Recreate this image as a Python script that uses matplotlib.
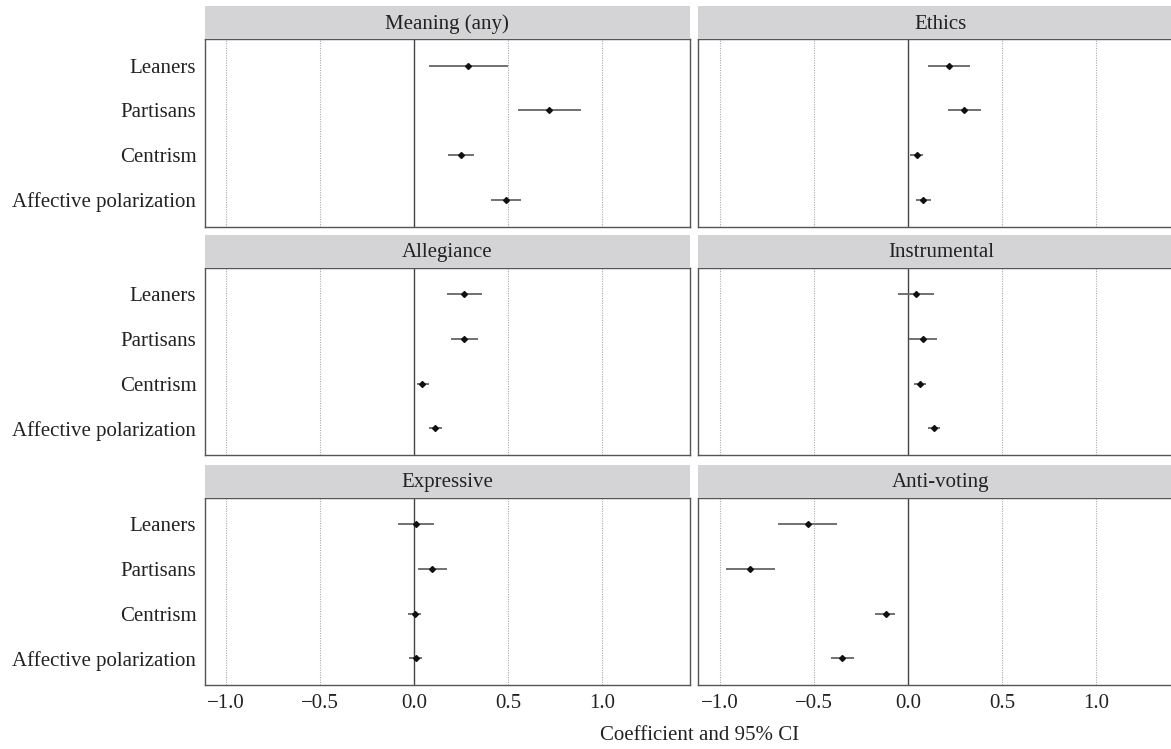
import matplotlib
matplotlib.use("Agg")
import matplotlib.pyplot as plt

plt.rcParams["font.family"] = ["Liberation Serif", "DejaVu Serif"]

# ----------------------------------------------------
# Data (coefficient, lower, upper)
# ----------------------------------------------------
predictors = ["Leaners", "Partisans", "Centrism", "Affective polarization"]
panels = ["Meaning (any)", "Ethics", "Allegiance", "Instrumental", "Expressive", "Anti-voting"]

coef = {
    "Meaning (any)": [0.287, 0.716, 0.250, 0.486],
    "Ethics":        [0.218, 0.300, 0.048, 0.082],
    "Allegiance":    [0.266, 0.266, 0.043, 0.112],
    "Instrumental":  [0.043, 0.082, 0.064, 0.138],
    "Expressive":    [0.007, 0.096, 0.002, 0.007],
    "Anti-voting":   [-0.532, -0.838, -0.119, -0.351],
}
lower = {
    "Meaning (any)": [0.076, 0.553, 0.181, 0.406],
    "Ethics":        [0.108, 0.215, 0.011, 0.044],
    "Allegiance":    [0.172, 0.193, 0.014, 0.080],
    "Instrumental":  [-0.051, 0.007, 0.035, 0.105],
    "Expressive":    [-0.087, 0.021, -0.032, -0.027],
    "Anti-voting":   [-0.689, -0.965, -0.177, -0.408],
}
upper = {
    "Meaning (any)": [0.500, 0.888, 0.319, 0.567],
    "Ethics":        [0.330, 0.390, 0.082, 0.121],
    "Allegiance":    [0.360, 0.340, 0.076, 0.145],
    "Instrumental":  [0.138, 0.154, 0.096, 0.170],
    "Expressive":    [0.105, 0.174, 0.035, 0.043],
    "Anti-voting":   [-0.376, -0.705, -0.066, -0.289],
}

xticks = [-1.0, -0.5, 0.0, 0.5, 1.0]
xtick_labels = ["\u22121.0", "\u22120.5", "0.0", "0.5", "1.0"]

# ----------------------------------------------------
# Layout (pixel positions measured on the reference)
# ----------------------------------------------------
W, H = 1171, 749
fig = plt.figure(figsize=(W / 100, H / 100), dpi=100)

col_x = [204.7, 698.3]
panel_w = 485
row_top = [39, 267.7, 497.7]
panel_h = 187.5
strip_h = 33

fs = 15
ypos = [4, 3, 2, 1]

for i, name in enumerate(panels):
    r, c = divmod(i, 2)
    x0 = col_x[c] / W
    y0 = 1 - (row_top[r] + panel_h) / H
    ax = fig.add_axes([x0, y0, panel_w / W, panel_h / H])

    # strip header
    sax = fig.add_axes([x0, 1 - row_top[r] / H, panel_w / W, strip_h / H])
    sax.set_facecolor("#d4d4d6")
    sax.set_xticks([])
    sax.set_yticks([])
    for s in sax.spines.values():
        s.set_visible(False)
    sax.text(0.5, 0.45, name, ha="center", va="center", fontsize=fs, color="#222222",
             transform=sax.transAxes)

    for g in [-1.0, -0.5, 0.5, 1.0]:
        ax.axvline(g, color="#aaaaaa", lw=0.8, ls=(0, (1, 1.2)), zorder=0)
    ax.axvline(0, color="#444444", lw=1.0, zorder=1)

    ax.hlines(ypos, lower[name], upper[name], color="#666666", lw=1.3, zorder=2)
    ax.plot(coef[name], ypos, ls="none", marker="D", ms=3, color="#111111", zorder=3)

    ax.set_xlim(-1.115, 1.465)
    ax.set_ylim(0.4, 4.6)
    ax.set_xticks(xticks)
    ax.set_yticks(ypos)
    ax.tick_params(length=0, labelsize=fs, colors="#222222", pad=6)
    for s in ax.spines.values():
        s.set_color("#555555")
        s.set_linewidth(1.0)

    if r == 2:
        ax.set_xticklabels(xtick_labels)
    else:
        ax.set_xticklabels([])
    if c == 0:
        ax.set_yticklabels(predictors)
    else:
        ax.set_yticklabels([])

fig.text(700 / W, 1 - 736 / H, "Coefficient and 95% CI", ha="center", va="center",
         fontsize=fs, color="#222222")

fig.savefig("out.png", dpi=100)
